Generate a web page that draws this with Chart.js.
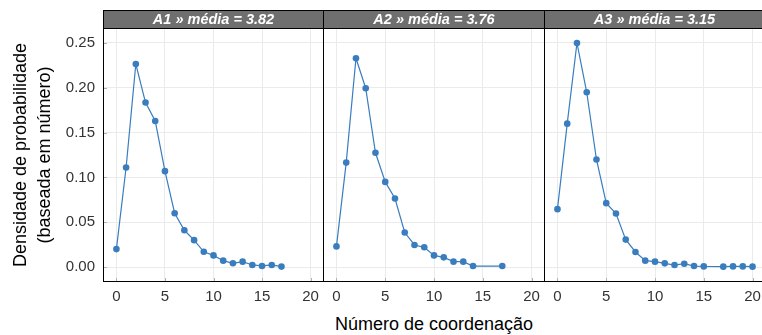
<!DOCTYPE html>
<html>
<head>
<meta charset="utf-8">
<script src="https://cdn.jsdelivr.net/npm/chart.js@4"></script>
<style>
html, body { margin: 0; padding: 0; background: #fff; overflow: hidden; }
#wrap { position: relative; width: 762px; height: 335px; overflow: hidden; font-family: "Liberation Sans", Arial, sans-serif; }
#wrap canvas { position: absolute; top: 0; }
#ytitle { position: absolute; left: 32px; top: 155px; width: 300px; margin-left: -150px; margin-top: -24px;
  height: 48px; line-height: 24px; text-align: center; font-size: 18px; color: #000;
  transform: rotate(-90deg); white-space: nowrap; }
#xtitle { position: absolute; left: 434px; top: 313px; width: 300px; margin-left: -150px; text-align: center;
  font-size: 18px; line-height: 22px; color: #000; white-space: nowrap; }
</style>
</head>
<body>
<div id="wrap">
  <canvas id="p1" width="324" height="310" style="left:0px;width:324px;height:310px"></canvas>
  <canvas id="p2" width="222" height="310" style="left:323px;width:222px;height:310px"></canvas>
  <canvas id="p3" width="222" height="310" style="left:544px;width:222px;height:310px"></canvas>
  <div id="ytitle">Densidade de probabilidade<br>(baseada em número)</div>
  <div id="xtitle">Número de coordenação</div>
</div>
<script>
// panel labels
const panelNames = ['A1', 'A2', 'A3'];
const panelMeans = ['3.82', '3.76', '3.15'];

// coordination number (x) and density (y) per panel
const xA1 = [0, 1, 2, 3, 4, 5, 6, 7, 8, 9, 10, 11, 12, 13, 14, 15, 16, 17];
const yA1 = [0.020, 0.111, 0.2265, 0.1835, 0.163, 0.107, 0.060, 0.041, 0.030, 0.017, 0.013, 0.0071, 0.0042, 0.006, 0.0023, 0.0012, 0.0023, 0.0005];

const xA2 = [0, 1, 2, 3, 4, 5, 6, 7, 8, 9, 10, 11, 12, 13, 14, 17];
const yA2 = [0.023, 0.1165, 0.233, 0.1995, 0.1275, 0.095, 0.0765, 0.0385, 0.0246, 0.022, 0.013, 0.0108, 0.006, 0.006, 0.0011, 0.0011];

const xA3 = [0, 1, 2, 3, 4, 5, 6, 7, 8, 9, 10, 11, 12, 13, 14, 15, 17, 18, 19, 20];
const yA3 = [0.0646, 0.160, 0.250, 0.195, 0.120, 0.0713, 0.0597, 0.0306, 0.0168, 0.0071, 0.006, 0.0041, 0.0022, 0.0037, 0.0011, 0.0007, 0.0004, 0.0007, 0.0007, 0.0004];

// axis ticks
const xTicks = [0, 5, 10, 15, 20];
const yTicks = [0, 0.05, 0.10, 0.15, 0.20, 0.25];

const lineColor = '#3a7dbf';

// strip on top + black panel frame + small inner ticks
const facetPlugin = {
    id: 'facet',
    afterDraw(chart, args, opts) {
        const ctx = chart.ctx;
        const a = chart.chartArea;
        ctx.save();
        // inner tick marks
        ctx.strokeStyle = '#b0b0b0';
        ctx.lineWidth = 1;
        const xs = chart.scales.x;
        xTicks.forEach(v => {
            const px = Math.round(xs.getPixelForValue(v)) + 0.5;
            ctx.beginPath();
            ctx.moveTo(px, a.bottom - 4);
            ctx.lineTo(px, a.bottom);
            ctx.stroke();
        });
        if (opts.leftTicks) {
            const ys = chart.scales.y;
            yTicks.forEach(v => {
                const py = Math.round(ys.getPixelForValue(v)) + 0.5;
                ctx.beginPath();
                ctx.moveTo(a.left, py);
                ctx.lineTo(a.left + 4, py);
                ctx.stroke();
            });
        }
        // frame
        ctx.strokeStyle = '#000';
        ctx.strokeRect(a.left + 0.5, a.top + 0.5, a.right - a.left - 1, a.bottom - a.top - 1);
        // strip
        ctx.fillStyle = '#6f6f6f';
        ctx.fillRect(a.left, 10, a.right - a.left, a.top - 10);
        ctx.strokeRect(a.left + 0.5, 10.5, a.right - a.left - 1, a.top - 10);
        ctx.fillStyle = '#fff';
        ctx.font = 'italic bold 14.5px "Liberation Sans", Arial, sans-serif';
        ctx.textAlign = 'center';
        ctx.textBaseline = 'middle';
        const cx = opts.cutRight ? (a.left + 221 / 2) : (a.left + a.right) / 2;
        ctx.fillText(opts.label, cx, (10 + a.top) / 2 + 1);
        ctx.restore();
    }
};

function makePanel(id, idx, xs, ys, first) {
    const ctx = document.getElementById(id).getContext('2d');
    return new Chart(ctx, {
        type: 'line',
        data: {
            datasets: [{
                data: xs.map((x, i) => ({ x: x, y: ys[i] })),
                borderColor: lineColor,
                backgroundColor: lineColor,
                borderWidth: 1.2,
                pointRadius: 3.3,
                pointBorderWidth: 0,
                pointBackgroundColor: lineColor,
                tension: 0
            }]
        },
        options: {
            responsive: false,
            animation: false,
            layout: { autoPadding: false, padding: { top: 28, left: 0, right: 0, bottom: 0 } },
            plugins: {
                legend: { display: false },
                tooltip: { enabled: false },
                facet: {
                    label: panelNames[idx] + ' » média = ' + panelMeans[idx],
                    leftTicks: first,
                    cutRight: idx === 2
                }
            },
            scales: {
                x: {
                    type: 'linear',
                    min: -1.38,
                    max: 21.38,
                    afterBuildTicks: s => { s.ticks = xTicks.map(v => ({ value: v })); },
                    afterFit: s => {
                        s.height = 28;
                        s.paddingLeft = 0;
                        s.paddingRight = 0;
                    },
                    grid: { color: '#ebebeb', lineWidth: 1, drawTicks: false },
                    border: { display: false },
                    ticks: {
                        padding: 6,
                        color: '#333',
                        font: { family: '"Liberation Sans", Arial, sans-serif', size: 15 },
                        maxRotation: 0,
                        callback: v => String(v)
                    }
                },
                y: {
                    type: 'linear',
                    min: -0.0167,
                    max: 0.2667,
                    afterBuildTicks: s => { s.ticks = yTicks.map(v => ({ value: v })); },
                    afterFit: s => {
                        s.width = first ? 103 : 0;
                        s.paddingTop = 0;
                        s.paddingBottom = 0;
                    },
                    grid: { color: '#ebebeb', lineWidth: 1, drawTicks: false },
                    border: { display: false },
                    ticks: {
                        display: first,
                        padding: 8,
                        color: '#333',
                        font: { family: '"Liberation Sans", Arial, sans-serif', size: 15 },
                        callback: v => v.toFixed(2)
                    }
                }
            }
        },
        plugins: [facetPlugin]
    });
}

makePanel('p1', 0, xA1, yA1, true);
makePanel('p2', 1, xA2, yA2, false);
makePanel('p3', 2, xA3, yA3, false);
</script>
</body>
</html>
